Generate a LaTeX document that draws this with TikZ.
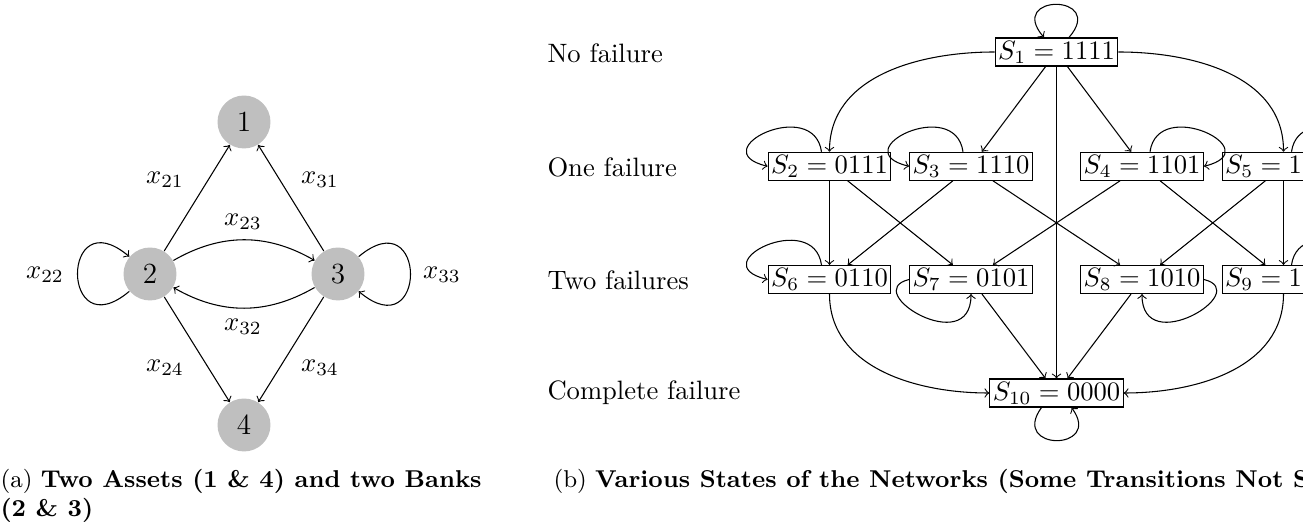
\documentclass[tikz,border=0pt]{standalone}
\usetikzlibrary{calc}
\begin{document}
\begin{tikzpicture}[x=0.376pt, y=0.376pt,
  vtx/.style={circle, fill=gray!50, minimum size=7mm, inner sep=0pt,
              font=\fontsize{11}{13}\selectfont},
  elab/.style={inner sep=0pt},
  sbox/.style={draw, rectangle, inner sep=1.1pt},
  rowlab/.style={anchor=west, inner sep=0pt},
  captext/.style={anchor=base west, inner sep=0pt, font=\fontsize{9.15}{11}\selectfont}]
\useasboundingbox (0,0) rectangle (1303,522);
\clip (0,0) rectangle (1303,522);

% ---------- (a) assets and banks ----------
\node[vtx] (n1) at (244,400) {1};
\node[vtx] (n2) at (150,248) {2};
\node[vtx] (n3) at (338,248) {3};
\node[vtx] (n4) at (244,97)  {4};

\draw[->] (n2) -- (n1);
\draw[->] (n3) -- (n1);
\draw[->] (n2) to[bend left=30] (n3);
\draw[->] (n3) to[bend left=30] (n2);
\draw[->] (n2) -- (n4);
\draw[->] (n3) -- (n4);
\draw[->] (n2.220) .. controls +(220:90) and +(140:90) .. (n2.140);
\draw[->] (n3.40) .. controls +(40:90) and +(-40:90) .. (n3.-40);

\node[elab] (l21) at (165,342) {$x_{21}$};
\node[elab] (l31) at (320,342) {$x_{31}$};
\node[elab] (l23) at (243,300) {$x_{23}$};
\node[elab] (l32) at (243,195) {$x_{32}$};
\node[elab] (l24) at (165,154) {$x_{24}$};
\node[elab] (l34) at (320,154) {$x_{34}$};
\node[elab] (l22) at (45,247)  {$x_{22}$};
\node[elab] (l33) at (442,247) {$x_{33}$};

% ---------- (b) states of the network ----------
\node[rowlab] (r0) at (547,469)   {No failure};
\node[rowlab] (r1) at (547,355)   {One failure};
\node[rowlab] (r2) at (547,241.5) {Two failures};
\node[rowlab] (r3) at (547,129)   {Complete failure};

\node[sbox] (S1)  at (1056.5,470)  {$S_1 = 1111$};
\node[sbox] (S2)  at (829.5,355.7) {$S_2 = 0111$};
\node[sbox] (S3)  at (971,355.7)   {$S_3 = 1110$};
\node[sbox] (S4)  at (1142,355.7)  {$S_4 = 1101$};
\node[sbox] (S5)  at (1283.5,355.7) {$S_5 = 1011$};
\node[sbox] (S6)  at (829.5,242.5) {$S_6 = 0110$};
\node[sbox] (S7)  at (971,242.5)   {$S_7 = 0101$};
\node[sbox] (S8)  at (1142,242.5)  {$S_8 = 1010$};
\node[sbox] (S9)  at (1283.5,242.5) {$S_9 = 1001$};
\node[sbox] (S10) at (1056.5,129)  {$S_{10} = 0000$};

% transitions out of S1
\draw[->] (S1.west) to[out=180,in=90] (S2.north);
\draw[->] (S1) -- (S3);
\draw[->] (S1) -- (S4);
\draw[->] (S1.east) to[out=0,in=90] (S5.north);
\draw[->] (S1) -- (S10);

% one failure -> two failures
\draw[->] (S2) -- (S6);
\draw[->] (S2) -- (S7);
\draw[->] (S3) -- (S6);
\draw[->] (S3) -- (S8);
\draw[->] (S4) -- (S7);
\draw[->] (S4) -- (S9);
\draw[->] (S5) -- (S8);
\draw[->] (S5) -- (S9);

% two failures -> complete failure
\draw[->] (S6.south) to[out=-90,in=180] (S10.west);
\draw[->] (S7) -- (S10);
\draw[->] (S8) -- (S10);
\draw[->] (S9.south) to[out=-90,in=0] (S10.east);

% self transitions
\draw[->] ($(S1.north)+(12.5,0)$) .. controls +(38,44) and +(-38,44) .. ($(S1.north)+(-12.5,0)$);
\draw[->] ($(S10.south)+(-15,0)$) .. controls +(-32,-44) and +(32,-44) .. ($(S10.south)+(15,0)$);
\draw[->] ($(S2.north)+(-8,0)$) .. controls +(-8,56) and +(-66,16) .. (S2.west);
\draw[->] ($(S3.north)+(-8,0)$) .. controls +(-8,56) and +(-66,16) .. (S3.west);
\draw[->] ($(S6.north)+(-8,0)$) .. controls +(-8,56) and +(-66,16) .. (S6.west);
\draw[->] ($(S4.north)+(8,0)$) .. controls +(8,56) and +(66,16) .. (S4.east);
\draw[->] ($(S5.north)+(8,0)$) .. controls +(8,56) and +(66,16) .. (S5.east);
\draw[->] ($(S9.north)+(8,0)$) .. controls +(8,56) and +(66,16) .. (S9.east);
\draw[->] (S7.west) .. controls +(-50,-12) and +(0,-65) .. (S7.south);
\draw[->] (S8.east) .. controls +(50,-12) and +(0,-65) .. (S8.south);

% captions
\node[captext] (capa1) at (0,34)  {(a) \textbf{Two Assets (1 \& 4) and two Banks}};
\node[captext] (capa2) at (0,5)   {\textbf{(2 \& 3)}};
\node[captext] (capb)  at (553,34) {(b) \textbf{Various States of the Networks (Some Transitions Not Shown)}};
\end{tikzpicture}
\end{document}
